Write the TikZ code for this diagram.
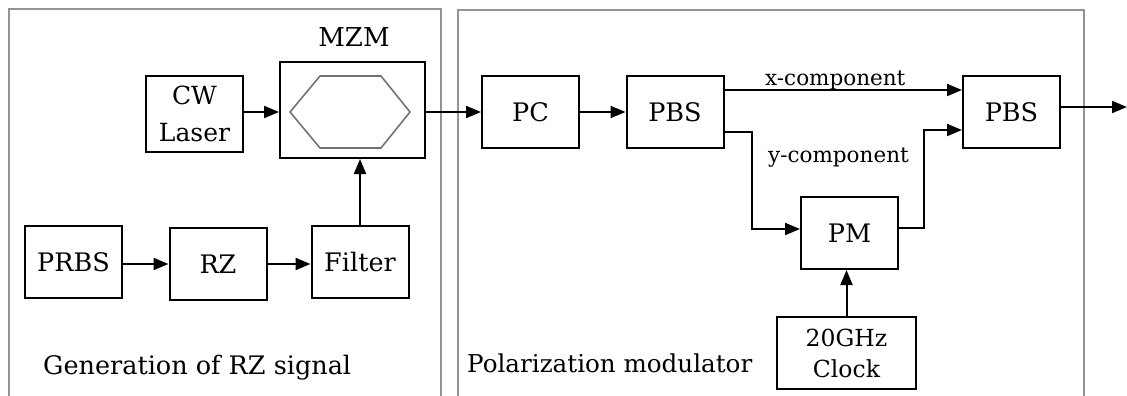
\documentclass[tikz,border=0pt]{standalone}
\usepackage{fontspec}
\setmainfont{DejaVu Serif}
\usetikzlibrary{arrows.meta}
\begin{document}
\begin{tikzpicture}[x=1pt,y=-1pt,
  blk/.style={draw=black,line width=2pt,minimum width=97pt,minimum height=72pt,
    inner sep=0pt,font=\fontsize{25.5}{34}\selectfont,align=center,fill=white},
  conn/.style={line width=2pt,-{Triangle[length=15pt,width=12pt]}},
  panel/.style={draw=black!42,line width=2pt},
  hexa/.style={draw=black!55,line width=1.6pt},
  lbl/.style={anchor=base west,inner sep=0pt},
  ]
\useasboundingbox (0,0) rectangle (1127,396);
% panels
\draw[panel] (9,397) -- (9,9) -- (441,9) -- (441,397);
\draw[panel] (458,397) -- (458,10) -- (1084,10) -- (1084,397);

% blocks
\node[blk,minimum height=76pt,font=\fontsize{25}{37}\selectfont] (cw) at (194.5,114) {CW\\Laser};
\node[blk,minimum width=145pt,minimum height=96pt] (mzm) at (352.5,110) {};
\node[inner sep=0pt,font=\fontsize{26}{30}\selectfont] (mzmlbl) at (354,37) {MZM};
\draw[hexa] (290,112) -- (320,76) -- (381,76) -- (410,112) -- (381,148) -- (320,148) -- cycle;

\node[blk] (prbs) at (73.5,262) {PRBS};
\node[blk] (rz) at (218,264) {RZ};
\node[blk] (filter) at (360,262) {Filter};

\node[blk] (pc) at (530.5,112) {PC};
\node[blk] (pbs1) at (675,112) {PBS};
\node[blk] (pbs2) at (1011.5,112) {PBS};
\node[blk] (pm) at (849.5,233) {PM};
\node[blk,minimum width=139pt,font=\fontsize{23.5}{31}\selectfont] (clock) at (846.5,353) {20GHz\\Clock};

% labels
\node[lbl,font=\fontsize{21.5}{26}\selectfont] (xlbl) at (765,85) {x-component};
\node[lbl,font=\fontsize{21.5}{26}\selectfont] (ylbl) at (768,162) {y-component};
\node[lbl,font=\fontsize{25.5}{30}\selectfont] (gen) at (43,374) {Generation of RZ signal};
\node[lbl,font=\fontsize{24.6}{30}\selectfont] (pol) at (467,372) {Polarization modulator};

% connectors
\draw[conn] (cw.east |- pc.west) -- (mzm.west |- pc.west);
\draw[conn] (mzm.east |- pc.west) -- (pc.west);
\draw[conn] (pc) -- (pbs1);
\draw[conn] ([yshift=22pt]pbs1.east) -- ([yshift=22pt]pbs1.east -| pbs2.west);
\draw[conn] ([yshift=-20pt]pbs1.east) -- ++(27,0) |- ([yshift=4pt]pm.west);
\draw[conn] ([yshift=5pt]pm.east) -- ++(25,0) |- ([yshift=-18pt]pbs2.west);
\coordinate (out) at (1127,107);
\draw[conn] (pbs2.east |- out) -- (out);
\draw[conn] (clock.north) -- (clock.north |- pm.south);
\draw[conn] (filter.north) -- (filter.north |- mzm.south);
\draw[conn] (prbs.east |- rz.west) -- (rz.west);
\draw[conn] (rz.east) -- (rz.east -| filter.west);
\end{tikzpicture}
\end{document}
